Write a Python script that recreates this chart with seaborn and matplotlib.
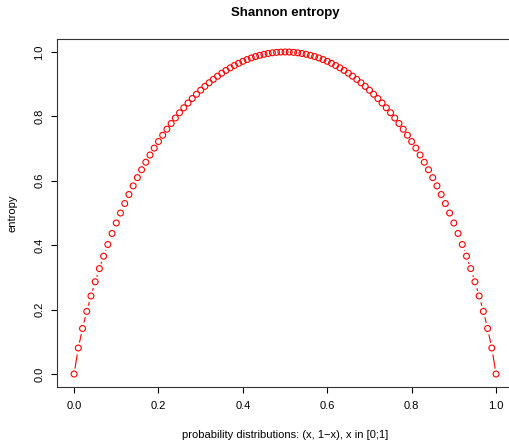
import matplotlib
matplotlib.use("Agg")
import matplotlib.pyplot as plt
import seaborn as sns
import pandas as pd

# probabilities x (first component of distribution (x, 1-x))
x_vals = [0.00, 0.01, 0.02, 0.03, 0.04, 0.05, 0.06, 0.07, 0.08, 0.09,
          0.10, 0.11, 0.12, 0.13, 0.14, 0.15, 0.16, 0.17, 0.18, 0.19,
          0.20, 0.21, 0.22, 0.23, 0.24, 0.25, 0.26, 0.27, 0.28, 0.29,
          0.30, 0.31, 0.32, 0.33, 0.34, 0.35, 0.36, 0.37, 0.38, 0.39,
          0.40, 0.41, 0.42, 0.43, 0.44, 0.45, 0.46, 0.47, 0.48, 0.49,
          0.50, 0.51, 0.52, 0.53, 0.54, 0.55, 0.56, 0.57, 0.58, 0.59,
          0.60, 0.61, 0.62, 0.63, 0.64, 0.65, 0.66, 0.67, 0.68, 0.69,
          0.70, 0.71, 0.72, 0.73, 0.74, 0.75, 0.76, 0.77, 0.78, 0.79,
          0.80, 0.81, 0.82, 0.83, 0.84, 0.85, 0.86, 0.87, 0.88, 0.89,
          0.90, 0.91, 0.92, 0.93, 0.94, 0.95, 0.96, 0.97, 0.98, 0.99,
          1.00]

# entropy values
entropy_vals = [0.0000, 0.0808, 0.1414, 0.1944, 0.2423, 0.2864, 0.3274, 0.3659, 0.4022, 0.4365,
                0.4690, 0.4999, 0.5294, 0.5574, 0.5842, 0.6098, 0.6343, 0.6577, 0.6801, 0.7015,
                0.7219, 0.7415, 0.7602, 0.7780, 0.7950, 0.8113, 0.8267, 0.8415, 0.8555, 0.8687,
                0.8813, 0.8932, 0.9044, 0.9149, 0.9248, 0.9341, 0.9427, 0.9507, 0.9580, 0.9648,
                0.9710, 0.9765, 0.9815, 0.9858, 0.9896, 0.9928, 0.9954, 0.9974, 0.9988, 0.9997,
                1.0000,
                0.9997, 0.9988, 0.9974, 0.9954, 0.9928, 0.9896, 0.9858, 0.9815, 0.9765, 0.9710,
                0.9648, 0.9580, 0.9507, 0.9427, 0.9341, 0.9248, 0.9149, 0.9044, 0.8932, 0.8813,
                0.8687, 0.8555, 0.8415, 0.8267, 0.8113, 0.7950, 0.7780, 0.7602, 0.7415, 0.7219,
                0.7015, 0.6801, 0.6577, 0.6343, 0.6098, 0.5842, 0.5574, 0.5294, 0.4999, 0.4690,
                0.4365, 0.4022, 0.3659, 0.3274, 0.2864, 0.2423, 0.1944, 0.1414, 0.0808, 0.0000]

x_ticks = [0.0, 0.2, 0.4, 0.6, 0.8, 1.0]
y_ticks = [0.0, 0.2, 0.4, 0.6, 0.8, 1.0]

title = "Shannon entropy"
x_label = "probability distributions: (x, 1\u2212x), x in [0;1]"
y_label = "entropy"

df = pd.DataFrame({"x": x_vals, "entropy": entropy_vals})

sns.set_style("ticks")
plt.rcParams["font.family"] = ["Liberation Sans", "DejaVu Sans"]
plt.rcParams["text.color"] = "black"
plt.rcParams["axes.labelcolor"] = "black"
plt.rcParams["xtick.color"] = "black"
plt.rcParams["ytick.color"] = "black"

fig = plt.figure(figsize=(5.1, 4.4), dpi=100)
W, H = 510, 440
left, right, bottom, top = 57.2, 514.0, 386.9, 39.1
ax = fig.add_axes([left / W, 1 - bottom / H, (right - left) / W, (bottom - top) / H])

sns.lineplot(data=df, x="x", y="entropy", ax=ax, color="red", linewidth=0.8,
             sort=False, estimator=None, zorder=1)
# white halos create the gaps of R's type="b"
sns.scatterplot(data=df, x="x", y="entropy", ax=ax, s=75, color="white",
                edgecolor="white", linewidth=0, zorder=2)
sns.scatterplot(data=df, x="x", y="entropy", ax=ax, s=18, facecolor="none",
                edgecolor="red", linewidth=0.8, zorder=3)

ax.set_xlim(-0.04, 1.0426)
ax.set_ylim(-0.04, 1.04)
ax.set_xticks(x_ticks)
ax.set_yticks(y_ticks)
ax.set_xticklabels([f"{t:.1f}" for t in x_ticks], fontsize=8)
ax.set_yticklabels([f"{t:.1f}" for t in y_ticks], fontsize=8, rotation=90, va="center")
ax.tick_params(axis="both", direction="out", length=4.3, width=0.8, color="black", pad=5)
ax.tick_params(axis="x", pad=6)
for name, sp in ax.spines.items():
    sp.set_visible(name != "right")
    sp.set_color("#333333")
    sp.set_linewidth(0.8)

ax.set_xlabel(x_label, fontsize=8)
ax.set_ylabel(y_label, fontsize=8)
ax.xaxis.set_label_coords((285 - left) / (right - left), (bottom - 435) / (bottom - top))
ax.yaxis.set_label_coords((12 - left) / (right - left), 0.5)
ax.xaxis.label.set_va("center")
ax.yaxis.label.set_va("center")

fig.text(285 / W, 1 - 13 / H, title, fontsize=9.5, fontweight="bold",
         ha="center", va="center")

fig.savefig("out.png", dpi=100, facecolor="white")
